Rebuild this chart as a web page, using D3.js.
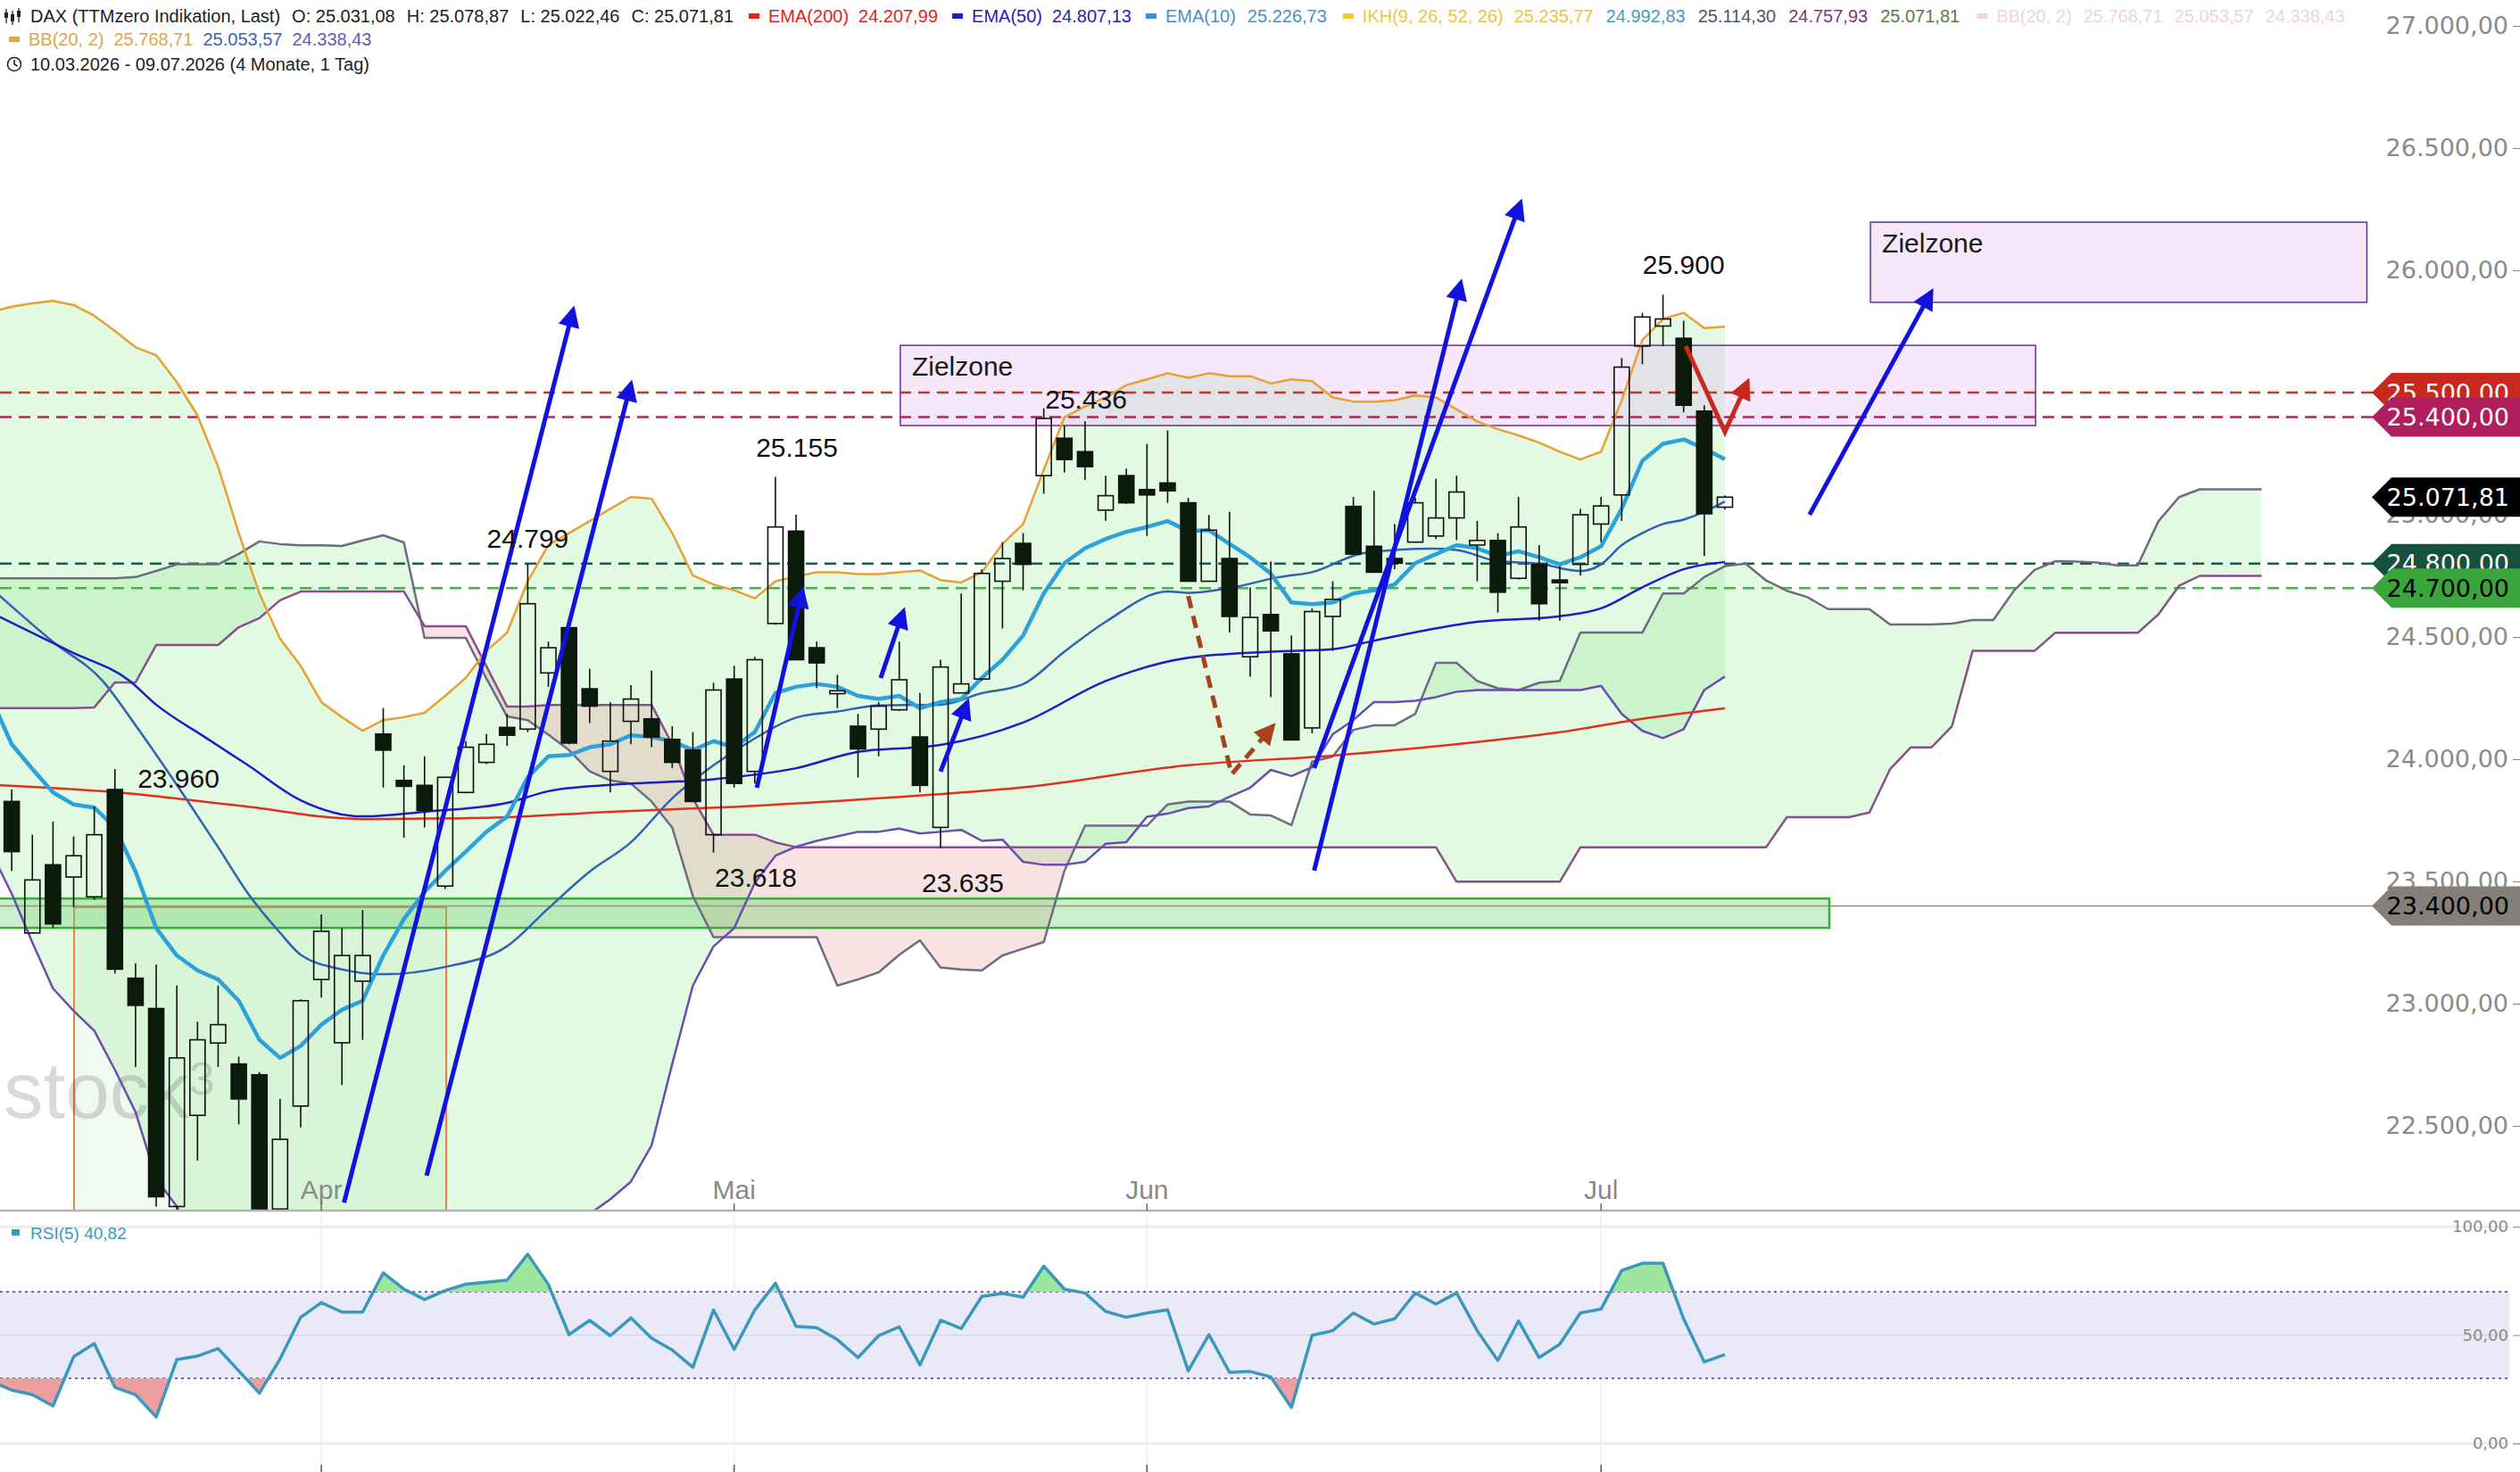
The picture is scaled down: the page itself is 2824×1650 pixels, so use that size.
<!DOCTYPE html>
<html>
<head>
<meta charset="utf-8">
<title>DAX daily</title>
<script src="https://d3js.org/d3.v7.min.js"></script>
<style>
  body { margin: 0; background: #fff; }
  svg { display: block; font-family: "Liberation Sans", Arial, sans-serif; }
</style>
</head>
<body>
<svg id="chart" width="2824" height="1650"></svg>
<script>
// ---- data (one entry per trading day, 10.03.2026 - 09.07.2026) ----
const opens = [23802,23827,23289,23568,23518,23437,23876,23104,22980,22170,
  22543,22839,22753,22709,22160,22581,23099,22840,23092,24103,
  23913,23893,23481,23864,23987,24130,24123,24353,24538,24288,
  23950,24155,24165,24081,24037,23691,24328,23950,24555,24933,
  24456,24268,24135,24123,24202,24091,23721,24271,24328,24728,
  24883,25160,25313,25258,25019,25160,25103,25130,25049,24728,
  24821,24419,24592,24431,24128,24584,25034,24871,24821,24888,
  24913,24987,24876,24895,24740,24797,24733,24797,24962,25081,
  25690,25772,25722,25424,25031];
const highs = [23850,23876,23691,23745,23684,23807,23960,23165,23160,23074,
  22926,23074,22783,22720,22610,23017,23365,23309,23383,24209,
  23975,24012,23926,24074,24103,24185,24799,24481,24555,24370,
  24234,24303,24362,24135,24111,24313,24382,24419,25155,25000,
  24481,24345,24185,24234,24481,24271,24407,24678,24777,24888,
  24925,25436,25364,25382,25160,25189,25290,25345,25069,24999,
  25012,24703,24809,24506,24617,24728,25073,25098,24962,25069,
  25147,25160,24975,24925,25073,24876,24789,25024,25073,25641,
  25826,25900,25794,25448,25079];
const lows = [23680,23543,23289,23309,23395,23425,23123,22741,22170,22140,
  22358,22741,22506,22080,22100,22494,23025,22667,22852,23884,
  23679,23721,23469,23860,23980,24054,24111,24296,24061,24148,
  23864,24061,24049,23963,23827,23618,23884,23901,24550,24407,
  24291,24209,23925,24012,24197,23864,23635,24271,24320,24535,
  24691,25086,25172,25142,24975,25044,24913,25049,24728,24728,
  24518,24338,24254,24079,24106,24444,24839,24765,24777,24888,
  24901,24896,24728,24600,24735,24567,24567,24752,24888,24975,
  25616,25690,25419,24831,25022];
const closes = [23704,23622,23506,23326,23605,23691,23141,22993,22210,22778,
  22852,22914,22610,22120,22445,23012,23296,23197,23197,24037,
  23889,23790,23926,24049,24061,24098,24636,24456,24066,24217,
  24074,24246,24091,23987,23827,24283,23901,24407,24950,24407,
  24394,24280,24042,24217,24325,23893,24377,24308,24760,24821,
  24797,25394,25226,25197,25078,25049,25081,25098,24728,24937,
  24584,24580,24525,24079,24604,24654,24839,24765,24802,25049,
  24987,25093,24895,24683,24950,24636,24723,25000,25036,25604,
  25809,25801,25448,25004,25072];

const ema10 = [24250,24061,23960,23864,23815,23802,23720,23540,23309,23197,
  23136,23099,23012,22852,22778,22827,22914,22975,23012,23197,
  23346,23457,23543,23622,23703,23765,23926,24012,24017,24049,
  24061,24098,24091,24074,24037,24074,24049,24111,24271,24296,
  24308,24296,24259,24246,24259,24209,24234,24246,24333,24407,
  24506,24678,24802,24863,24901,24930,24950,24974,24933,24937,
  24881,24826,24759,24641,24634,24641,24678,24691,24715,24802,
  24839,24876,24863,24831,24851,24826,24797,24826,24871,25024,
  25221,25290,25308,25271,25227];
const bbUpper = [25830,25851,25865,25875,25858,25814,25752,25685,25653,25542,
  25406,25197,24925,24678,24493,24382,24234,24172,24116,24160,
  24172,24190,24259,24333,24444,24518,24728,24876,24925,24974,
  25024,25073,25066,24925,24752,24715,24691,24658,24728,24747,
  24765,24765,24757,24757,24765,24772,24733,24723,24765,24881,
  24962,25184,25399,25443,25480,25530,25554,25579,25560,25579,
  25567,25567,25537,25554,25547,25480,25463,25463,25468,25488,
  25480,25431,25382,25350,25325,25295,25258,25226,25258,25468,
  25715,25801,25826,25764,25769];
const bbLower = [23620,23450,23250,23062,22970,22889,22729,22556,22284,22170,
  22000,21880,21800,21750,21720,21700,21700,21720,21750,21800,
  21850,21880,21900,21920,21950,21980,22000,22030,22080,22140,
  22200,22272,22420,22753,23074,23234,23309,23494,23605,23642,
  23666,23684,23703,23703,23716,23696,23703,23711,23666,23671,
  23580,23568,23568,23580,23654,23661,23765,23777,23800,23807,
  23846,23883,23956,23931,23967,24102,24160,24234,24234,24239,
  24254,24276,24283,24283,24283,24283,24283,24283,24300,24185,
  24116,24086,24123,24283,24338];
// smoother averages, read at selected days: [day index, value]
const bbMiddle = [[0,24700],[3,24480],[5.4,24321],[7,24139],[9.5,23832],[11,23640],[12.4,23456],
  [14,23290],[15,23200],[17,23140],[19,23120],[22,23150],[25,23235],[27,23390],[29,23540],
  [31,23660],[33,23840],[35,23975],[37,24085],[39,24170],[41,24195],[43,24220],[46,24223],
  [48,24270],[50,24307],[52,24440],[54,24562],[57,24686],[58,24680],[60,24700],[62.4,24745],
  [64,24765],[66.5,24843],[69.8,24861],[71,24856],[73,24810],[75,24800],[77,24770],[78,24797],
  [79,24876],[80,24925],[81,24962],[82,24980],[83,25012],[84,25054]];
const ema50 = [[0,24600],[3.8,24442],[6.7,24321],[8,24223],[10.4,24088],[12.4,23978],[15,23832],
  [18,23766],[21,23785],[25,23821],[27,23869],[30,23895],[35,23918],[39,23963],[42,24030],
  [46,24058],[50,24150],[54,24320],[58,24415],[62,24440],[65,24450],[67,24485],[72,24562],
  [76,24585],[78,24617],[80,24703],[82,24777],[84,24807]];
const ema200 = [[0,23895],[6,23865],[12,23810],[18,23755],[24,23760],[30,23785],[36,23805],
  [43,23840],[50,23885],[58,23975],[65,24015],[72,24070],[76,24110],[80,24165],[84,24208]];

// Ichimoku spans, shifted 26 days ahead (index 0 .. 110)
const spanA = [24740,24740,24740,24740,24740,24740,24740,24745,24770,24797,
  24797,24797,24840,24891,24880,24875,24875,24872,24895,24916,
  24887,24496,24496,24496,24330,24175,24160,24100,24037,23950,
  23913,23900,23827,23720,23440,23272,23272,23272,23272,23272,
  23272,23074,23099,23128,23200,23259,23148,23140,23136,23197,
  23225,23252,23543,23728,23728,23728,23728,23815,23827,23827,
  23827,23774,23770,23730,23990,24011,24120,24139,24139,24186,
  24394,24394,24320,24290,24283,24313,24320,24518,24518,24518,
  24518,24678,24678,24745,24790,24800,24731,24689,24663,24614,
  24614,24614,24551,24551,24551,24555,24569,24569,24689,24774,
  24810,24808,24805,24793,24793,24973,25072,25104,25104,25104,
  25104];
const spanB = [24209,24209,24209,24209,24209,24212,24314,24314,24467,24467,
  24467,24467,24540,24577,24650,24686,24686,24686,24686,24686,
  24686,24544,24544,24544,24380,24215,24215,24222,24222,24222,
  24222,24222,24222,24061,23839,23691,23691,23691,23660,23640,
  23640,23640,23640,23640,23640,23640,23640,23640,23640,23640,
  23640,23640,23640,23640,23640,23640,23640,23640,23640,23640,
  23640,23640,23640,23640,23640,23640,23640,23640,23640,23640,
  23640,23499,23499,23499,23499,23499,23499,23640,23640,23640,
  23640,23640,23640,23640,23640,23640,23640,23763,23763,23763,
  23763,23782,23959,24048,24048,24135,24443,24443,24443,24443,
  24517,24517,24517,24517,24517,24592,24709,24750,24750,24750,
  24750];

const rsi = [28.7,24.6,22.5,17.3,40.0,46.1,25.9,22.5,12.2,38.7,
  40.3,43.8,33.5,23.2,39.0,58.2,65.0,60.6,60.6,78.7,
  71.2,66.4,70.5,73.5,74.4,75.3,87.3,73.3,50.2,56.8,
  49.7,57.9,48.6,43.1,35.1,61.6,43.4,61.6,73.9,54.0,
  53.4,47.9,39.6,49.7,53.8,36.2,56.8,53.0,67.8,69.2,
  67.5,81.8,71.2,69.4,60.9,58.2,60.2,61.6,33.5,50.2,
  32.8,33.2,30.7,16.6,49.9,52.0,60.2,55.1,57.5,69.4,
  64.3,69.4,52.0,38.3,56.5,39.6,45.8,60.2,62.0,79.8,
  83.1,83.1,57.5,37.6,41.0];

const monthTicks = [{label: 'Apr', index: 16}, {label: 'Mai', index: 36}, {label: 'Jun', index: 56}, {label: 'Jul', index: 78}];
const priceTicks = d3.range(22500, 27001, 500);
const rsiTicks = [0, 50, 100];
const levels = [25500, 25400, 24800, 24700];
const supportLevel = 23400;
const lastPrice = 25071.81;
const highLowNotes = [
  {text: '25.900', index: 82.0, value: 26022},
  {text: '25.436', index: 53.05, value: 25474},
  {text: '25.155', index: 39.04, value: 25277},
  {text: '24.799', index: 26.0, value: 24905},
  {text: '23.960', index: 9.08, value: 23920},
  {text: '23.618', index: 37.05, value: 23518},
  {text: '23.635', index: 47.08, value: 23496}
];
const targetZones = [
  {from: 44.05, to: 99.05, low: 25365, high: 25693},
  {from: 91.05, to: 115.1, low: 25869, high: 26197}
];
const supportBand = {from: -1, to: 89.06, low: 23310, high: 23430};
const aprilBox = {from: 4.02, to: 22.05, high: 23394, low: 21500};
const blueArrows = [
  [[17.1, 22186], [28.2, 25839]],
  [[21.1, 22296], [31.0, 25536]],
  [[37.1, 23883], [39.3, 24690]],
  [[43.1, 24332], [44.2, 24606]],
  [[46.0, 23949], [47.3, 24234]],
  [[64.1, 23544], [71.2, 25949]],
  [[64.1, 23964], [74.1, 26277]],
  [[88.1, 25000], [94.0, 25912]]
];
const brownArrow = [[58.0, 24668], [60.1, 23938], [62.1, 24135]];
const redArrow = [[82.1, 25690], [84.0, 25339], [85.1, 25544]];

// ---- drawing ----
const W = 2824, H = 1650, mainBottom = 1357;
const de = d3.formatLocale({decimal: ',', thousands: '.', grouping: [3], currency: ['', '']});
const fmt = de.format(',.2f');

const x = d3.scaleLinear().domain([0, 84]).range([-10, 1933]);
const y = d3.scaleLinear().domain([22500, 27000]).range([1262, 29]);
const yR = d3.scaleLinear().domain([0, 100]).range([1618, 1375]);

const svg = d3.select('#chart');
svg.append('rect').attr('width', W).attr('height', H).attr('fill', '#fff');
const defs = svg.append('defs');
defs.append('clipPath').attr('id', 'mainClip')
  .append('rect').attr('width', W).attr('height', mainBottom);

function marker(id, color) {
  defs.append('marker').attr('id', id)
    .attr('viewBox', '0 0 10 10').attr('refX', 8).attr('refY', 5)
    .attr('markerWidth', 28).attr('markerHeight', 24)
    .attr('markerUnits', 'userSpaceOnUse').attr('orient', 'auto')
    .append('path').attr('d', 'M0,0 L10,5 L0,10 z').attr('fill', color);
}
marker('headBlue', '#1212e0');
marker('headBrown', '#a8421c');
marker('headRed', '#c8281e');

const idx = d3.range(closes.length);
const cloudIdx = d3.range(spanA.length);
const main = svg.append('g').attr('clip-path', 'url(#mainClip)');

// bollinger fill
main.append('path')
  .attr('d', d3.area().x(i => x(i)).y0(i => y(bbLower[i])).y1(i => y(bbUpper[i]))(idx))
  .attr('fill', 'rgb(140,230,140)').attr('fill-opacity', 0.25);

// cloud
defs.append('clipPath').attr('id', 'aboveB').append('path')
  .attr('d', d3.area().x(i => x(i)).y0(0).y1(i => y(spanB[i]))(cloudIdx));
defs.append('clipPath').attr('id', 'belowB').append('path')
  .attr('d', d3.area().x(i => x(i)).y0(mainBottom).y1(i => y(spanB[i]))(cloudIdx));
const cloud = d3.area().x(i => x(i)).y0(i => y(spanB[i])).y1(i => y(spanA[i]));
main.append('g').attr('clip-path', 'url(#aboveB)').append('path')
  .attr('d', cloud(cloudIdx)).attr('fill', 'rgb(140,230,140)').attr('fill-opacity', 0.25);
main.append('g').attr('clip-path', 'url(#belowB)').append('path')
  .attr('d', cloud(cloudIdx)).attr('fill', 'rgb(225,110,110)').attr('fill-opacity', 0.2);

// april box
main.append('rect')
  .attr('x', x(aprilBox.from)).attr('y', y(aprilBox.high))
  .attr('width', x(aprilBox.to) - x(aprilBox.from)).attr('height', y(aprilBox.low) - y(aprilBox.high))
  .attr('fill', 'rgb(170,230,170)').attr('fill-opacity', 0.18)
  .attr('stroke', '#e48442').attr('stroke-width', 2);

// watermark
const wm = main.append('text').attr('x', 4).attr('y', 1253)
  .attr('font-size', 89).attr('fill', '#000').attr('fill-opacity', 0.15).text('stock');
wm.append('tspan').attr('font-size', 52).attr('dy', -26).text('3');

// support band + line
main.append('line').attr('x1', 0).attr('x2', 2660)
  .attr('y1', y(supportLevel)).attr('y2', y(supportLevel))
  .attr('stroke', '#8a8a8a').attr('stroke-width', 1.5);
main.append('rect')
  .attr('x', x(supportBand.from)).attr('y', y(supportBand.high))
  .attr('width', x(supportBand.to) - x(supportBand.from)).attr('height', y(supportBand.low) - y(supportBand.high))
  .attr('fill', 'rgb(110,205,110)').attr('fill-opacity', 0.35)
  .attr('stroke', '#3caa3c').attr('stroke-width', 2.5);

// target zones
targetZones.forEach(z => {
  main.append('rect')
    .attr('x', x(z.from)).attr('y', y(z.high))
    .attr('width', x(z.to) - x(z.from)).attr('height', y(z.low) - y(z.high))
    .attr('fill', 'rgb(225,175,240)').attr('fill-opacity', 0.3)
    .attr('stroke', '#6a2aa8').attr('stroke-width', 1.5);
  main.append('text').attr('x', x(z.from) + 13).attr('y', y(z.high) + 23)
    .attr('dominant-baseline', 'central').attr('font-size', 30).attr('fill', '#1a1a1a')
    .text('Zielzone');
});

// horizontal levels
const levelColors = {25500: '#c8352b', 25400: '#a82a5c', 24800: '#1d5a4a', 24700: '#4cb04c'};
levels.forEach(v => {
  main.append('line').attr('x1', 0).attr('x2', 2660).attr('y1', y(v)).attr('y2', y(v))
    .attr('stroke', levelColors[v]).attr('stroke-width', 2.5).attr('stroke-dasharray', '13,8');
});

// indicator lines
const lineIdx = (arr) => d3.line().x((d, i) => x(i)).y(d => y(d))(arr);
const lineSparse = (arr) => d3.line().x(d => x(d[0])).y(d => y(d[1])).curve(d3.curveMonotoneX)(arr);
const stroke = (d, color, w) => main.append('path').attr('d', d).attr('fill', 'none')
  .attr('stroke', color).attr('stroke-width', w).attr('stroke-linejoin', 'round');
stroke(lineIdx(spanA), '#6c6c82', 2.5);
stroke(lineIdx(spanB), '#86508a', 2.5);
stroke(lineIdx(bbLower), '#6a4cb4', 2.5);
stroke(lineSparse(ema200), '#e2301e', 2.5);
stroke(lineSparse(bbMiddle), '#2f62b4', 2.5);
stroke(lineSparse(ema50), '#1c1cc8', 2.5);
stroke(lineIdx(bbUpper), '#e8a030', 2.5);
stroke(lineIdx(ema10), '#2ca2da', 4.5);

// candles (rising bodies hollow)
const cw = 17;
const candles = main.append('g');
idx.forEach(i => {
  const up = closes[i] >= opens[i];
  const top = y(Math.max(opens[i], closes[i]));
  const bottom = y(Math.min(opens[i], closes[i]));
  candles.append('line').attr('x1', x(i)).attr('x2', x(i))
    .attr('y1', y(highs[i])).attr('y2', top)
    .attr('stroke', '#111').attr('stroke-width', 1.6);
  candles.append('line').attr('x1', x(i)).attr('x2', x(i))
    .attr('y1', bottom).attr('y2', y(lows[i]))
    .attr('stroke', '#111').attr('stroke-width', 1.6);
  candles.append('rect').attr('x', x(i) - cw / 2).attr('y', top)
    .attr('width', cw).attr('height', Math.max(3, bottom - top))
    .attr('fill', up ? 'none' : '#0b1c0b')
    .attr('stroke', '#111').attr('stroke-width', 1.6);
});

// arrows
const pathLine = d3.line().x(d => x(d[0])).y(d => y(d[1]));
blueArrows.forEach(a => {
  main.append('path').attr('d', pathLine(a)).attr('fill', 'none')
    .attr('stroke', '#1212e0').attr('stroke-width', 5).attr('marker-end', 'url(#headBlue)');
});
main.append('path').attr('d', pathLine(brownArrow)).attr('fill', 'none')
  .attr('stroke', '#a8421c').attr('stroke-width', 5).attr('stroke-dasharray', '14,9')
  .attr('marker-end', 'url(#headBrown)');
main.append('path').attr('d', pathLine(redArrow)).attr('fill', 'none')
  .attr('stroke', '#c8281e').attr('stroke-width', 5).attr('stroke-linejoin', 'miter')
  .attr('marker-end', 'url(#headRed)');

// high / low notes
highLowNotes.forEach(n => {
  main.append('text').attr('x', x(n.index)).attr('y', y(n.value))
    .attr('text-anchor', 'middle').attr('dominant-baseline', 'central')
    .attr('font-size', 30).attr('fill', '#111').text(n.text);
});

// month labels
monthTicks.forEach(m => {
  main.append('text').attr('x', x(m.index)).attr('y', 1333)
    .attr('text-anchor', 'middle').attr('dominant-baseline', 'central')
    .attr('font-size', 30).attr('fill', '#8a8a8a').text(m.label);
});

// panel divider + month ticks
svg.append('line').attr('x1', 0).attr('x2', W).attr('y1', mainBottom).attr('y2', mainBottom)
  .attr('stroke', '#b4b4b4').attr('stroke-width', 2.5);
monthTicks.forEach(m => {
  svg.append('line').attr('x1', x(m.index)).attr('x2', x(m.index)).attr('y1', 1349).attr('y2', mainBottom)
    .attr('stroke', '#666').attr('stroke-width', 1.5);
  svg.append('line').attr('x1', x(m.index)).attr('x2', x(m.index)).attr('y1', 1362).attr('y2', H)
    .attr('stroke', '#ededed').attr('stroke-width', 1.5);
  svg.append('line').attr('x1', x(m.index)).attr('x2', x(m.index)).attr('y1', 1642).attr('y2', H)
    .attr('stroke', '#555').attr('stroke-width', 1.5);
});

// price axis
const axisMain = svg.append('g').attr('transform', `translate(${W},0)`)
  .call(d3.axisLeft(y).tickValues(priceTicks).tickSize(8).tickPadding(5).tickFormat(fmt));
axisMain.select('.domain').remove();
axisMain.selectAll('line').attr('stroke', '#888');
axisMain.selectAll('text').attr('font-family', '"DejaVu Sans", sans-serif')
  .attr('font-size', 27).attr('fill', '#8a8a8a');

// value tags
const tagStyle = {
  25500: ['#c8281e', '#fff'], 25400: ['#b01e5e', '#fff'],
  24800: ['#16503e', '#fff'], 24700: ['#3aa53a', '#000'],
  [lastPrice]: ['#000', '#fff'], [supportLevel]: ['#857f7c', '#000']
};
[25500, 25400, 24800, 24700, lastPrice, supportLevel].forEach(v => {
  const cy = y(v);
  const g = svg.append('g');
  g.append('path')
    .attr('d', `M2658,${cy} L2680,${cy - 22} L${W},${cy - 22} L${W},${cy + 22} L2680,${cy + 22} Z`)
    .attr('fill', tagStyle[v][0]);
  g.append('text').attr('x', 2812).attr('y', cy).attr('text-anchor', 'end')
    .attr('dominant-baseline', 'central')
    .attr('font-family', '"DejaVu Sans", sans-serif').attr('font-size', 27)
    .attr('fill', tagStyle[v][1]).text(fmt(v));
});

// ---- RSI panel ----
const rsiG = svg.append('g');
rsiG.append('rect').attr('x', 0).attr('width', 2812)
  .attr('y', yR(70)).attr('height', yR(30) - yR(70)).attr('fill', '#e9e9f8');
[100, 0].forEach(v => rsiG.append('line').attr('x1', 0).attr('x2', 2812)
  .attr('y1', yR(v)).attr('y2', yR(v)).attr('stroke', '#ececec').attr('stroke-width', 3));
rsiG.append('line').attr('x1', 0).attr('x2', 2812).attr('y1', yR(50)).attr('y2', yR(50))
  .attr('stroke', '#d6d6e6').attr('stroke-width', 1.5);
[70, 30].forEach(v => rsiG.append('line').attr('x1', 0).attr('x2', 2812)
  .attr('y1', yR(v)).attr('y2', yR(v)).attr('stroke', '#6c6c9c')
  .attr('stroke-width', 2).attr('stroke-dasharray', '3,4'));

defs.append('clipPath').attr('id', 'over70').append('rect')
  .attr('x', 0).attr('y', 1362).attr('width', W).attr('height', yR(70) - 1362);
defs.append('clipPath').attr('id', 'under30').append('rect')
  .attr('x', 0).attr('y', yR(30)).attr('width', W).attr('height', H - yR(30));
rsiG.append('path').attr('clip-path', 'url(#over70)')
  .attr('d', d3.area().x((d, i) => x(i)).y0(yR(70)).y1(d => yR(d))(rsi))
  .attr('fill', '#9ee69e');
rsiG.append('path').attr('clip-path', 'url(#under30)')
  .attr('d', d3.area().x((d, i) => x(i)).y0(yR(30)).y1(d => yR(d))(rsi))
  .attr('fill', '#ee9e9e');
rsiG.append('path').attr('d', d3.line().x((d, i) => x(i)).y(d => yR(d))(rsi))
  .attr('fill', 'none').attr('stroke', '#3a98bf').attr('stroke-width', 3.5)
  .attr('stroke-linejoin', 'round');

const axisRsi = svg.append('g').attr('transform', `translate(${W},0)`)
  .call(d3.axisLeft(yR).tickValues(rsiTicks).tickSize(8).tickPadding(5).tickFormat(de.format(',.2f')));
axisRsi.select('.domain').remove();
axisRsi.selectAll('line').attr('stroke', '#888');
axisRsi.selectAll('text').attr('font-family', '"DejaVu Sans", sans-serif')
  .attr('font-size', 18).attr('fill', '#8a8a8a');

rsiG.append('rect').attr('x', 13).attr('y', 1378).attr('width', 9).attr('height', 7).attr('fill', '#3a98bf');
rsiG.append('text').attr('x', 34).attr('y', 1382).attr('dominant-baseline', 'central')
  .attr('font-size', 19).attr('fill', '#3a98bf').text('RSI(5) 40,82');

// ---- header legend ----
function headerRow(yc, x0, items) {
  let cx = x0;
  items.forEach(it => {
    if (it.marker) {
      svg.append('rect').attr('x', cx).attr('y', yc - 3).attr('width', 12).attr('height', 6).attr('fill', it.marker);
      cx += 22;
      return;
    }
    const t = svg.append('text').attr('x', cx).attr('y', yc).attr('dominant-baseline', 'central')
      .attr('font-size', 20).attr('fill', it.color || '#222').text(it.text);
    cx += t.node().getComputedTextLength() + (it.gap || 13);
  });
}
headerRow(18, 34, [
  {text: 'DAX (TTMzero Indikation, Last)'}, {text: 'O: 25.031,08'}, {text: 'H: 25.078,87'},
  {text: 'L: 25.022,46'}, {text: 'C: 25.071,81', gap: 17},
  {marker: '#e0251d'}, {text: 'EMA(200)', color: '#e0251d', gap: 11}, {text: '24.207,99', color: '#e0251d', gap: 16},
  {marker: '#2020c0'}, {text: 'EMA(50)', color: '#2a22b8', gap: 11}, {text: '24.807,13', color: '#2a22b8', gap: 16},
  {marker: '#3a8fd8'}, {text: 'EMA(10)', color: '#4a8fd0', gap: 13}, {text: '25.226,73', color: '#4a8fd0', gap: 18},
  {marker: '#f2c828'}, {text: 'IKH(9, 26, 52, 26)', color: '#ecc640', gap: 12}, {text: '25.235,77', color: '#ecc640', gap: 14},
  {text: '24.992,83', color: '#3fa0b6', gap: 14}, {text: '25.114,30', color: '#55556a', gap: 14},
  {text: '24.757,93', color: '#7a3a7a', gap: 14}, {text: '25.071,81', color: '#5a7a4a', gap: 19},
  {marker: '#f0d4da'}, {text: 'BB(20, 2)', color: '#ecd6da', gap: 13}, {text: '25.768,71', color: '#ecd6da', gap: 13},
  {text: '25.053,57', color: '#ecd6da', gap: 13}, {text: '24.338,43', color: '#ecd6da'}
]);
headerRow(44, 10, [
  {marker: '#e6a63c'}, {text: 'BB(20, 2)', color: '#dea44a', gap: 11}, {text: '25.768,71', color: '#dea44a', gap: 11},
  {text: '25.053,57', color: '#3a64b8', gap: 11}, {text: '24.338,43', color: '#6a58b6'}
]);
// clock icon + period
svg.append('circle').attr('cx', 16).attr('cy', 72).attr('r', 7.5).attr('fill', 'none')
  .attr('stroke', '#222').attr('stroke-width', 1.6);
svg.append('path').attr('d', 'M16,67 L16,72 L19.5,74').attr('fill', 'none')
  .attr('stroke', '#222').attr('stroke-width', 1.6);
headerRow(72, 34, [{text: '10.03.2026 - 09.07.2026  (4 Monate, 1 Tag)'}]);
// candle icon
[[7, 10, 26, 14, 20], [14, 12, 28, 16, 24], [21, 9, 25, 12, 19]].forEach(c => {
  svg.append('line').attr('x1', c[0]).attr('x2', c[0]).attr('y1', c[1]).attr('y2', c[2])
    .attr('stroke', '#222').attr('stroke-width', 1.3);
  svg.append('rect').attr('x', c[0] - 2).attr('y', c[3]).attr('width', 4).attr('height', c[4] - c[3])
    .attr('fill', '#222');
});
</script>
</body>
</html>
